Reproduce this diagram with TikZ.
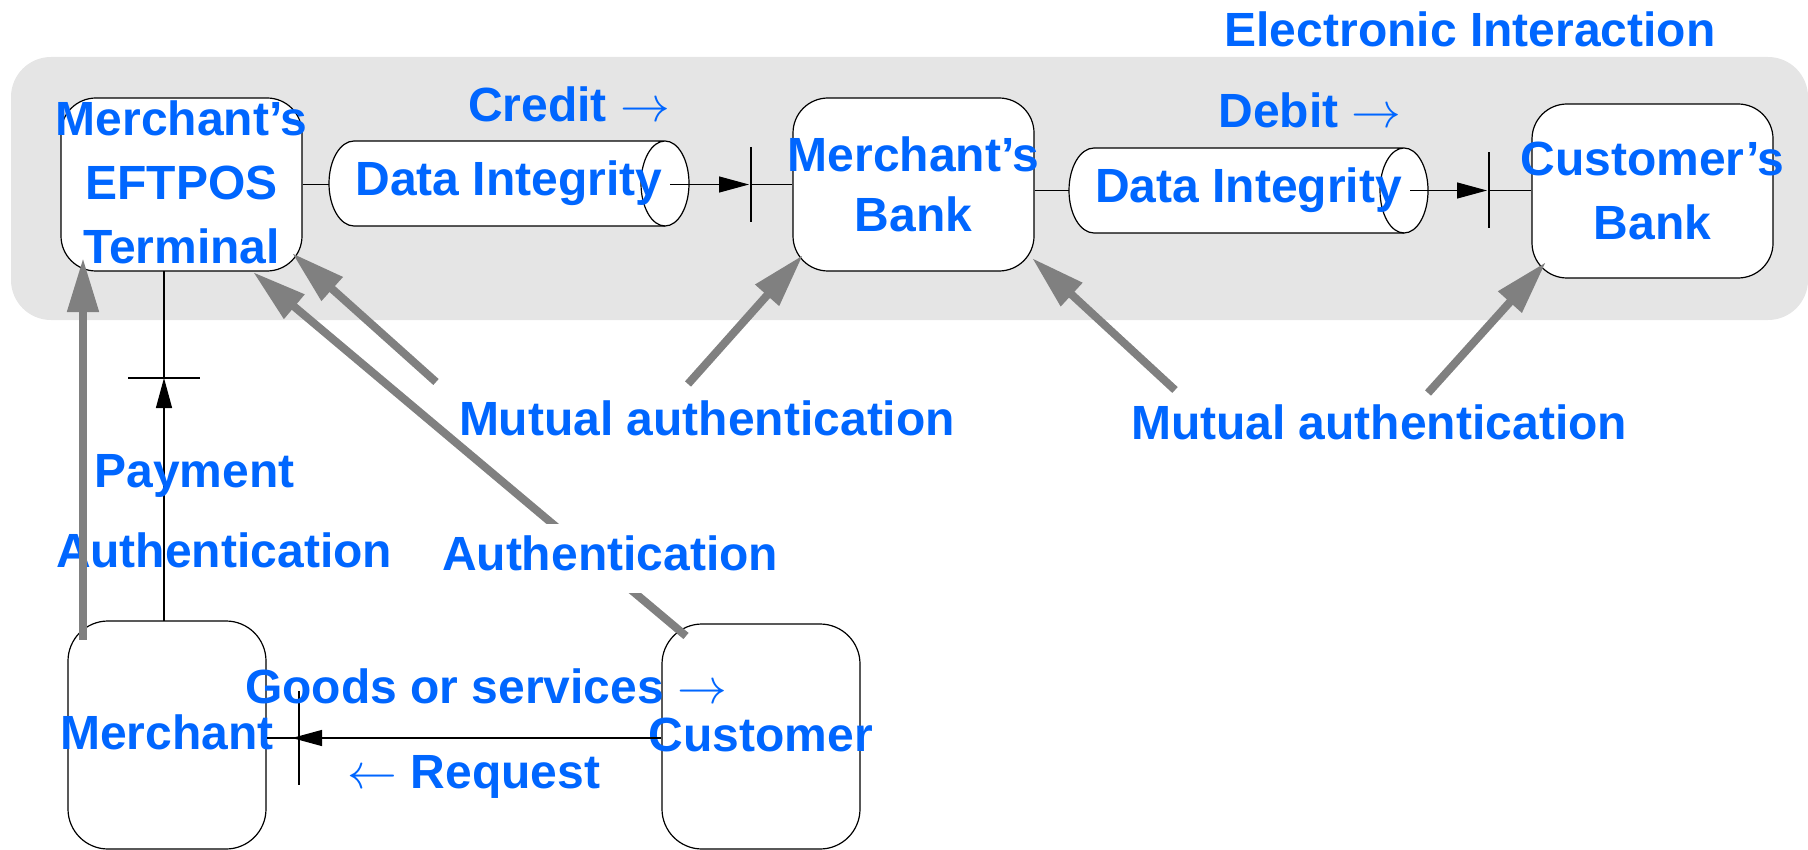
\documentclass[tikz,border=0pt]{standalone}
\usepackage{fontspec}
\setmainfont{Liberation Sans}
\usetikzlibrary{arrows.meta}
\definecolor{eblue}{RGB}{0,102,255}
\definecolor{agray}{RGB}{128,128,128}
\definecolor{panel}{RGB}{229,229,229}
% zero-width, centred line so long names may spill over their box
\newcommand\ctr[1]{\makebox[0pt]{#1}}
% invisible depth added under a last line
\newcommand\sink[1]{\rule[-#1]{0pt}{0pt}}
\newcommand\lblfont{\fontsize{24}{31}\selectfont\bfseries}

\begin{document}
\begin{tikzpicture}[x=0.5pt,y=-0.5pt,
  party/.style={draw, line width=0.6pt, fill=white, rounded corners=17.5pt,
                inner sep=0pt, align=center, text=eblue, font=\lblfont},
  pipe/.style={inner sep=0pt, text=eblue, font=\lblfont, minimum height=42.5pt},
  tag/.style={inner sep=0pt, anchor=base, text=eblue, font=\lblfont},
  flow/.style={line width=0.6pt},
  tipflow/.style={flow, -{Triangle[length=15pt,width=8pt]}},
  auth/.style={draw=agray, line width=4pt, -{Triangle[length=27pt,width=15pt]}},
]
\useasboundingbox (0,0) rectangle (1808,850);

% electronic interaction panel
\fill[panel, rounded corners=20pt] (11,57) rectangle (1808,320);
\node[tag] (ei) at (1470,47) {Electronic Interaction};

% channel 1 (terminal -> merchant's bank)
\fill[white] (354,141) -- (665,141)
  arc[start angle=90, end angle=-90, x radius=12pt, y radius=21.25pt]
  -- (354,226) arc[start angle=270, end angle=90, x radius=12.5pt, y radius=21.25pt] -- cycle;
\draw[flow] (354,141) -- (665,141)
  arc[start angle=90, end angle=-270, x radius=12pt, y radius=21.25pt];
\draw[flow] (665,226) -- (354,226)
  arc[start angle=270, end angle=90, x radius=12.5pt, y radius=21.25pt];
\node[pipe, minimum width=180pt] (d1) at (509,183.5) {Data Integrity};

% channel 2 (merchant's bank -> customer's bank)
\fill[white] (1094,148) -- (1404,148)
  arc[start angle=90, end angle=-90, x radius=12pt, y radius=21.25pt]
  -- (1094,233) arc[start angle=270, end angle=90, x radius=12.5pt, y radius=21.25pt] -- cycle;
\draw[flow] (1094,148) -- (1404,148)
  arc[start angle=90, end angle=-270, x radius=12pt, y radius=21.25pt];
\draw[flow] (1404,233) -- (1094,233)
  arc[start angle=270, end angle=90, x radius=12.5pt, y radius=21.25pt];
\node[pipe, minimum width=179.5pt] (d2) at (1248.5,190.5) {Data Integrity};

% parties
\node[party, font=\fontsize{24}{32}\selectfont\bfseries,
      minimum width=120.5pt, minimum height=86.5pt] (eft) at (181.5,184.5)
  {\ctr{Merchant’s}\\\ctr{EFTPOS}\\\ctr{Terminal\sink{2.5pt}}};
\node[party, font=\fontsize{24}{30}\selectfont\bfseries,
      minimum width=120.5pt, minimum height=86.5pt] (mb) at (913.5,184.5)
  {\ctr{Merchant’s}\\\ctr{Bank}};
\node[party, font=\fontsize{24}{32}\selectfont\bfseries,
      minimum width=120.5pt, minimum height=87pt] (cb) at (1652.5,191)
  {\ctr{Customer’s}\\\ctr{Bank}};
\node[party, rounded corners=20pt, minimum width=99pt, minimum height=114pt] (mer) at (167,735)
  {\ctr{Merchant\sink{2.5pt}}};
\node[party, rounded corners=20pt, minimum width=99pt, minimum height=112.5pt] (cus) at (761,736.5)
  {\ctr{Customer\sink{2pt}}};

% credit flow
\coordinate (c1out) at (670,184.5);
\coordinate (bar1) at (751,184.5);
\draw[flow] (eft.east) -- (eft.east -| d1.west);
\draw[tipflow] (c1out) -- ([xshift=-1pt]bar1);
\draw[flow] ([yshift=18.75pt]bar1) -- ([yshift=-18.75pt]bar1);
\draw[flow] (bar1) -- (mb.west);
\node[tag] (credit) at (569,122) {Credit $\rightarrow$};

% debit flow
\coordinate (c2out) at (1410,190.5);
\coordinate (bar2) at (1489,190.5);
\draw[flow] (mb.east |- d2.west) -- (d2.west);
\draw[tipflow] (c2out) -- ([xshift=-1pt]bar2);
\draw[flow] ([yshift=19pt]bar2) -- ([yshift=-19pt]bar2);
\draw[flow] (bar2) -- (cb.west |- bar2);
\node[tag] (debit) at (1310,128) {Debit $\rightarrow$};

% payment flow (merchant -> terminal)
\coordinate (payfoot) at (164,621);
\coordinate (bar3) at (164,378);
\coordinate (payhead) at (164,271);
\draw[tipflow] (payfoot) -- (bar3);
\draw[flow] ([xshift=-18pt]bar3) -- ([xshift=18pt]bar3);
\draw[flow] (bar3) -- (payhead);
\node[tag] (pay) at (194.5,487) {Payment};
\node[tag] (pauth) at (224,567) {Authentication};

% goods / request flow (customer -> merchant)
\coordinate (bar4) at (299,738);
\draw[tipflow] (cus.west |- bar4) -- ([xshift=-3.5pt]bar4);
\draw[flow] ([yshift=23.5pt]bar4) -- ([yshift=-23.5pt]bar4);
\draw[flow] (bar4) -- (mer.east |- bar4);
\node[tag] (goods) at (486,703) {Goods or services $\rightarrow$};
\node[tag] (req) at (474,788) {$\leftarrow$ Request};

% authentication arrows
\coordinate (t1) at (83,640);   \coordinate (h1) at (83,258);
\coordinate (t2) at (436,382);  \coordinate (h2) at (292,253);
\coordinate (t3) at (686,636);  \coordinate (h3) at (253,272);
\coordinate (t4) at (688,384);  \coordinate (h4) at (803,255);
\coordinate (t5) at (1175,390); \coordinate (h5) at (1032,258);
\coordinate (t6) at (1428,393); \coordinate (h6) at (1546,262);
\draw[auth] (t1) -- (h1);
\draw[auth] (t2) -- (h2);
\draw[auth] (t3) -- (h3);
\draw[auth] (t4) -- (h4);
\draw[auth] (t5) -- (h5);
\draw[auth] (t6) -- (h6);

\node[tag, fill=white, inner xsep=2pt, inner ysep=5.5pt, text depth=6pt] (cauth) at (610,570) {Authentication};
\node[tag] (mut1) at (707,435) {Mutual authentication};
\node[tag] (mut2) at (1379,439) {Mutual authentication};
\end{tikzpicture}
\end{document}
